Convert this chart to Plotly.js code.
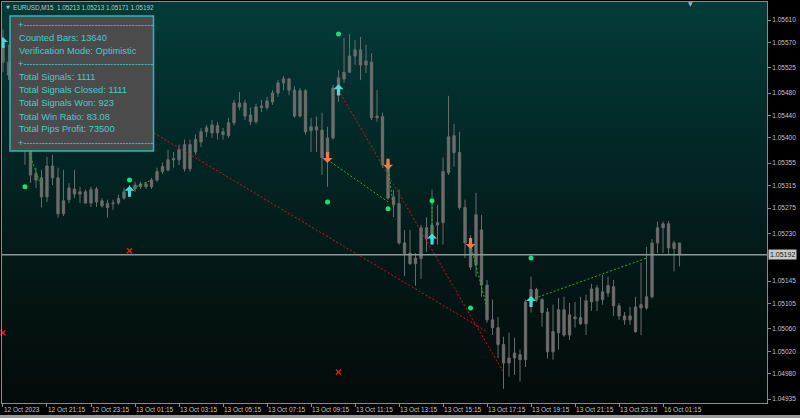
<!DOCTYPE html>
<html>
<head>
<meta charset="utf-8">
<script src="https://cdn.plot.ly/plotly-3.0.1.min.js"></script>
<style>
  html, body { margin:0; padding:0; background:#000; width:800px; height:418px; overflow:hidden; }
  #bg { position:absolute; left:2px; top:2px; width:765px; height:401px;
        background: linear-gradient(to bottom, #023b39 0%, #022826 35%, #031817 65%, #040a0a 100%); }
  #chart { position:absolute; left:0; top:0; width:800px; height:418px; }
  #frame { position:absolute; left:0; top:415px; width:800px; height:3px; background:#9a9a9a; }
</style>
</head>
<body>
<div id="bg"></div>
<div id="chart"></div>
<div id="frame"></div>
<script>
// ---- Data (EURUSD M15) ----
const symbol = "EURUSD,M15";
const open = [1.05574,1.05535,1.05512,1.05485,1.05436,1.05379,1.05336,1.05329,1.05295,1.05350,
1.05329,1.05265,1.05290,1.05309,1.05304,1.05304,1.05284,1.05309,1.05288,1.05283,
1.05283,1.05284,1.05293,1.05302,1.05309,1.05313,1.05318,1.05313,1.05325,1.05340,
1.05343,1.05361,1.05361,1.05388,1.05345,1.05375,1.05393,1.05411,1.05409,1.05422,
1.05411,1.05404,1.05427,1.05455,1.05462,1.05441,1.05429,1.05454,1.05454,1.05464,
1.05480,1.05498,1.05505,1.05485,1.05439,1.05484,1.05413,1.05420,1.05414,1.05366,
1.05400,1.05476,1.05505,1.05517,1.05546,1.05557,1.05530,1.05535,1.05436,1.05438,
1.05356,1.05295,1.05283,1.05213,1.05195,1.05176,1.05185,1.05240,1.05219,1.05245,
1.05249,1.05338,1.05404,1.05374,1.05276,1.05213,1.05174,1.05236,1.05138,1.05076,
1.05062,1.05032,1.04999,1.05008,1.05014,1.05005,1.05108,1.05130,1.05112,1.05090,
1.05019,1.05053,1.05094,1.05049,1.05081,1.05080,1.05069,1.05108,1.05133,1.05112,
1.05124,1.05135,1.05101,1.05083,1.05076,1.05099,1.05097,1.05097,1.05117,1.05213,
1.05240,1.05247,1.05203,1.05213];
const high = [1.05593,1.05566,1.05521,1.05492,1.05446,1.05388,1.05347,1.05343,1.05366,1.05370,
1.05347,1.05343,1.05320,1.05343,1.05313,1.05308,1.05313,1.05313,1.05293,1.05290,
1.05290,1.05299,1.05311,1.05316,1.05322,1.05322,1.05322,1.05329,1.05347,1.05356,
1.05379,1.05375,1.05388,1.05397,1.05397,1.05406,1.05418,1.05423,1.05432,1.05429,
1.05418,1.05436,1.05468,1.05482,1.05468,1.05454,1.05461,1.05468,1.05473,1.05485,
1.05503,1.05510,1.05507,1.05492,1.05489,1.05487,1.05436,1.05438,1.05445,1.05420,
1.05494,1.05521,1.05578,1.05585,1.05574,1.05580,1.05566,1.05551,1.05485,1.05445,
1.05361,1.05308,1.05308,1.05236,1.05236,1.05195,1.05245,1.05259,1.05308,1.05281,
1.05365,1.05475,1.05425,1.05411,1.05290,1.05227,1.05302,1.05263,1.05147,1.05112,
1.05081,1.05046,1.05053,1.05044,1.05023,1.05112,1.05153,1.05133,1.05115,1.05097,
1.05103,1.05115,1.05117,1.05106,1.05108,1.05117,1.05121,1.05140,1.05138,1.05156,
1.05153,1.05147,1.05106,1.05090,1.05099,1.05117,1.05178,1.05206,1.05220,1.05251,
1.05251,1.05252,1.05217,1.05213];
const low = [1.05517,1.05503,1.05476,1.05429,1.05352,1.05320,1.05311,1.05276,1.05286,1.05316,
1.05258,1.05261,1.05284,1.05293,1.05284,1.05283,1.05277,1.05277,1.05276,1.05258,
1.05272,1.05281,1.05290,1.05295,1.05304,1.05309,1.05309,1.05309,1.05322,1.05336,
1.05340,1.05347,1.05352,1.05340,1.05340,1.05370,1.05384,1.05402,1.05400,1.05397,
1.05397,1.05400,1.05422,1.05450,1.05432,1.05423,1.05425,1.05446,1.05450,1.05459,
1.05473,1.05485,1.05476,1.05436,1.05436,1.05406,1.05375,1.05375,1.05334,1.05313,
1.05397,1.05464,1.05498,1.05516,1.05530,1.05503,1.05516,1.05432,1.05429,1.05347,
1.05290,1.05259,1.05210,1.05154,1.05174,1.05137,1.05149,1.05197,1.05210,1.05210,
1.05210,1.05334,1.05349,1.05272,1.05186,1.05165,1.05153,1.05117,1.05071,1.05049,
1.05008,1.04953,1.04975,1.04978,1.04966,1.04992,1.05089,1.05108,1.05064,1.05007,
1.05005,1.05023,1.05046,1.05040,1.05062,1.05067,1.05049,1.05092,1.05092,1.05103,
1.05117,1.05083,1.05076,1.05067,1.05067,1.05053,1.05049,1.05094,1.05114,1.05195,
1.05195,1.05192,1.05162,1.05171];
const close = [1.05535,1.05512,1.05485,1.05436,1.05388,1.05334,1.05325,1.05295,1.05350,1.05329,
1.05265,1.05288,1.05311,1.05300,1.05300,1.05284,1.05308,1.05286,1.05279,1.05276,
1.05284,1.05292,1.05304,1.05311,1.05316,1.05318,1.05313,1.05325,1.05340,1.05349,
1.05361,1.05363,1.05379,1.05345,1.05388,1.05397,1.05411,1.05418,1.05423,1.05409,
1.05406,1.05427,1.05462,1.05462,1.05439,1.05429,1.05455,1.05457,1.05466,1.05480,
1.05498,1.05505,1.05485,1.05439,1.05484,1.05411,1.05420,1.05414,1.05365,1.05400,
1.05489,1.05507,1.05517,1.05546,1.05557,1.05530,1.05537,1.05436,1.05439,1.05352,
1.05293,1.05281,1.05213,1.05194,1.05176,1.05186,1.05240,1.05220,1.05245,1.05249,
1.05340,1.05402,1.05374,1.05276,1.05213,1.05170,1.05263,1.05138,1.05076,1.05062,
1.05032,1.04999,1.05008,1.05017,1.05005,1.05108,1.05130,1.05112,1.05089,1.05019,
1.05055,1.05094,1.05049,1.05085,1.05078,1.05069,1.05110,1.05131,1.05110,1.05126,
1.05137,1.05101,1.05083,1.05076,1.05083,1.05055,1.05103,1.05117,1.05213,1.05240,
1.05247,1.05204,1.05213,1.05192];

// time-axis labels (bar index -> label)
const tickBars = [0,8,16,24,32,40,48,56,64,72,80,88,96,104,112,120];
const tickLabels = ["12 Oct 2023","12 Oct 21:15","12 Oct 23:15","13 Oct 01:15","13 Oct 03:15",
  "13 Oct 05:15","13 Oct 07:15","13 Oct 09:15","13 Oct 11:15","13 Oct 13:15","13 Oct 15:15",
  "13 Oct 17:15","13 Oct 19:15","13 Oct 21:15","13 Oct 23:15","16 Oct 01:15"];
// price-axis labels (1.05185 sits under the current-price tag)
const priceTicks = [1.05610,1.05570,1.05525,1.05480,1.05440,1.05400,1.05355,1.05315,1.05275,
  1.05230,1.05145,1.05105,1.05060,1.05020,1.04980,1.04935];

// signals
const upBars = [0,23,61,78,96];
const upPrices = [1.05569,1.05304,1.05485,1.05219,1.05108];
const downBars = [4,59,70,85];
const downPrices = [1.05397,1.05366,1.05354,1.05213];
const entryBars = [0,4,23,59,61,70,78,85,96];
const entryPrices = [1.05569,1.05393,1.05308,1.05361,1.05485,1.05350,1.05224,1.05210,1.05112];
const exitBars = [88,7,27,70,91,71,78,88,117];
const exitPrices = [1.05055,1.05313,1.05325,1.05286,1.04983,1.05274,1.05288,1.05097,1.05186];
const signalWon = [false,true,true,true,false,true,true,true,true];
const dotBars = [4,23,59,61,70,78,85,96];
const dotPrices = [1.05313,1.05325,1.05286,1.05585,1.05274,1.05288,1.05097,1.05186];
const lossBars = [0,23,61];
const lossPrices = [1.05053,1.05199,1.04983];

// statistics panel
const countedBars = 13640;
const verificationMode = "Optimistic";
const totalSignals = 1111;
const totalClosed = 1111;
const totalWon = 923;
const winRatio = "83.08";
const pipsProfit = 73500;

// ---- Build ----
const FONT = "Liberation Sans, Arial, sans-serif";
const idx = open.map((_, i) => i);
const n = close.length - 1;
const candleGray = '#6c6c6c';

const traces = [];
traces.push({
  type: 'candlestick', x: idx, open: open, high: high, low: low, close: close,
  increasing: {line: {color: candleGray, width: 1}, fillcolor: candleGray},
  decreasing: {line: {color: candleGray, width: 1}, fillcolor: candleGray},
  hoverinfo: 'skip', showlegend: false
});

// signal lines
function lineTrace(won) {
  const xs = [], ys = [];
  entryBars.forEach((b, k) => {
    if (signalWon[k] === won) {
      xs.push(b, exitBars[k], null);
      ys.push(entryPrices[k], exitPrices[k], null);
    }
  });
  return {type: 'scatter', mode: 'lines', x: xs, y: ys, hoverinfo: 'skip',
    line: {color: won ? '#22b422' : '#c01c1c', width: 1, dash: '2px,2px'}, connectgaps: false};
}
traces.push(lineTrace(false));
traces.push(lineTrace(true));

traces.push({type: 'scatter', mode: 'markers', x: dotBars, y: dotPrices, hoverinfo: 'skip',
  marker: {color: '#16e07a', size: 5, symbol: 'circle'}});
traces.push({type: 'scatter', mode: 'markers', x: lossBars, y: lossPrices, hoverinfo: 'skip', cliponaxis: false,
  marker: {color: '#e81818', size: 5, symbol: 'x-thin', line: {color: '#e81818', width: 1.5}}});

// arrow glyphs (pixel-sized paths anchored at the signal price)
const UP_PATH = 'M0,6 L5,1 L1.6,1 L1.6,-5 L-1.6,-5 L-1.6,1 L-5,1 Z';
const DOWN_PATH = 'M0,-6 L5,-1 L1.6,-1 L1.6,5 L-1.6,5 L-1.6,-1 L-5,-1 Z';
const arrowShapes = [];
upBars.forEach((b, k) => arrowShapes.push({type: 'path', xref: 'x', yref: 'y',
  xsizemode: 'pixel', ysizemode: 'pixel', xanchor: b, yanchor: upPrices[k], path: UP_PATH,
  fillcolor: '#4cd8d8', line: {width: 0}, layer: 'above'}));
downBars.forEach((b, k) => arrowShapes.push({type: 'path', xref: 'x', yref: 'y',
  xsizemode: 'pixel', ysizemode: 'pixel', xanchor: b, yanchor: downPrices[k], path: DOWN_PATH,
  fillcolor: '#f07c4c', line: {width: 0}, layer: 'above'}));

// pixel helpers for overlay layout (plot area 2..767 x 2..403)
const PX = p => (p - 2) / 765;
const PY = p => (403 - p) / 401;

const sep = '+' + '-'.repeat(42);
const infoLines = [
  [sep, 25, 17],
  ['Counted Bars: ' + countedBars, 38, 18],
  ['Verification Mode: ' + verificationMode, 51, 18],
  [sep, 64, 17],
  ['Total Signals: ' + totalSignals, 77, 18],
  ['Total Signals Closed: ' + totalClosed, 90, 18],
  ['Total Signals Won: ' + totalWon, 103, 18],
  ['Total Win Ratio: ' + winRatio, 116.5, 18],
  ['Total Pips Profit: ' + pipsProfit, 129, 18],
  [sep, 142.5, 17]
];

const annotations = infoLines.map(([t, y, x]) => ({
  xref: 'paper', yref: 'paper', x: PX(x), y: PY(y), xanchor: 'left', yanchor: 'middle',
  text: t, showarrow: false, borderpad: 0, font: {family: FONT, size: 9.3, color: '#46cccc'}
}));

const header = symbol + '  ' + [open[n], high[n], low[n], close[n]].map(v => v.toFixed(5)).join(' ');
annotations.push({xref: 'paper', yref: 'paper', x: PX(12), y: PY(7.5), xanchor: 'left', yanchor: 'middle',
  text: header, showarrow: false, borderpad: 0, font: {family: FONT, size: 6.3, color: '#c4c4c4'}});
annotations.push({xref: 'paper', yref: 'paper', x: PX(4.5), y: PY(7), xanchor: 'left', yanchor: 'middle',
  text: '▼', showarrow: false, borderpad: 0, font: {family: 'DejaVu Sans', size: 5, color: '#b0b0b0'}});
annotations.push({xref: 'paper', yref: 'paper', x: PX(690), y: PY(3.5), xanchor: 'center', yanchor: 'middle',
  text: '▼', showarrow: false, borderpad: 0, font: {family: 'DejaVu Sans', size: 6, color: '#a8b0b0'}});
annotations.push({xref: 'paper', yref: 'y', x: 1, y: close[n], xanchor: 'left', yanchor: 'middle', xshift: 1,
  text: close[n].toFixed(5), showarrow: false, bgcolor: '#c8c8c8', borderpad: 1,
  font: {family: FONT, size: 7, color: '#1a1a1a'}});

const layout = {
  width: 800, height: 418,
  margin: {l: 2, r: 33, t: 2, b: 15},
  paper_bgcolor: 'rgba(0,0,0,0)', plot_bgcolor: 'rgba(0,0,0,0)',
  showlegend: false, dragmode: false,
  boxgap: 0.4, boxgroupgap: 0.3,
  xaxis: {
    range: [-0.18, 138.9], tickmode: 'array', tickvals: tickBars, ticktext: tickLabels,
    ticks: 'outside', ticklen: 3, tickcolor: '#8a8a8a', tickwidth: 1, tickangle: 0,
    showline: true, linecolor: '#8a8a8a', linewidth: 1, mirror: true,
    showgrid: false, zeroline: false, rangeslider: {visible: false},
    ticklabelposition: 'outside right',
    tickfont: {family: FONT, size: 6.5, color: '#c4c4c4'}
  },
  yaxis: {
    side: 'right', range: [1.049279, 1.056421], tickmode: 'array', tickvals: priceTicks,
    ticktext: priceTicks.map(v => v.toFixed(5)),
    ticks: 'outside', ticklen: 3, tickcolor: '#8a8a8a',
    showline: true, linecolor: '#8a8a8a', linewidth: 1, mirror: true,
    showgrid: false, zeroline: false,
    tickfont: {family: FONT, size: 6.5, color: '#c4c4c4'}
  },
  shapes: [
    {type: 'line', xref: 'paper', x0: 0, x1: 1, yref: 'y', y0: close[n], y1: close[n],
     line: {color: '#8a9898', width: 1.5}, layer: 'above'}
  ].concat(arrowShapes).concat([
    {type: 'rect', xref: 'paper', yref: 'paper', x0: PX(10), x1: PX(153.5), y0: PY(151), y1: PY(16),
     fillcolor: '#4b4b4b', line: {color: '#2fb8b8', width: 1.5}, layer: 'above'}
  ]),
  annotations: annotations
};

Plotly.newPlot('chart', traces, layout, {staticPlot: true, displayModeBar: false});
</script>
</body>
</html>
